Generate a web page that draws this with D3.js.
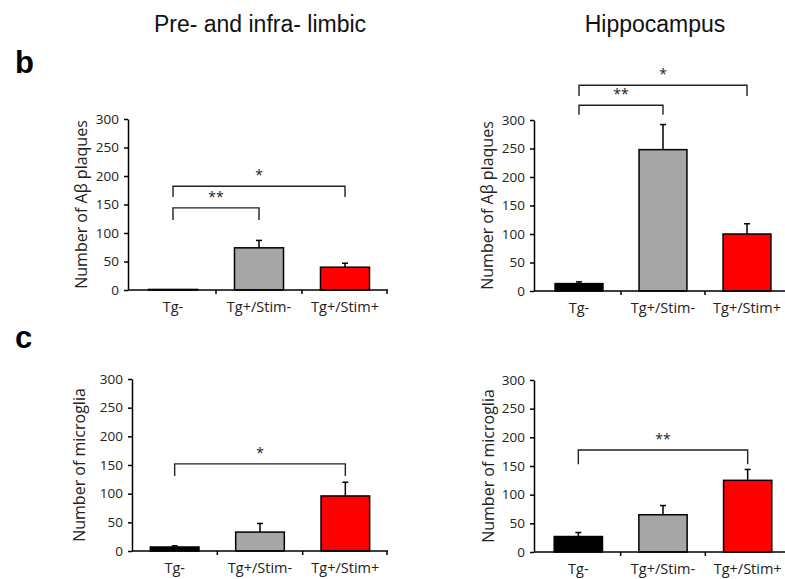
<!DOCTYPE html>
<html>
<head>
<meta charset="utf-8">
<script src="https://cdn.jsdelivr.net/npm/d3@7"></script>
<style>
  body { margin: 0; background: #fff; }
  svg { display: block; }
</style>
</head>
<body>
<div id="vis"></div>
<script>
//Groups shown on every x axis
var categories = ["Tg-", "Tg+/Stim-", "Tg+/Stim+"];
var barColors = ["#000000", "#a6a6a6", "#ff0000"];
var yTicks = [0, 50, 100, 150, 200, 250, 300];

//Values (mean and upward SEM)
var plaquesLimbic = [1, 74, 40];
var plaquesLimbicErr = [0, 13, 7];
var plaquesHippo = [13, 248, 100];
var plaquesHippoErr = [3, 44, 18];
var microgliaLimbic = [7, 33, 96];
var microgliaLimbicErr = [2, 15, 24];
var microgliaHippo = [27, 65, 125];
var microgliaHippoErr = [7, 16, 19];

//Significance brackets: [from group, to group, bar level, drop level, label]
var sigPlaquesLimbic = [[0, 1, 144, 123, "**"], [0, 2, 182, 163, "*"]];
var sigPlaquesHippo = [[0, 1, 326, 309, "**"], [0, 2, 361, 342, "*"]];
var sigMicrogliaLimbic = [[0, 2, 152, 131, "*"]];
var sigMicrogliaHippo = [[0, 2, 178, 153, "**"]];

var width = 785, height = 579;

var svg = d3.select("#vis").append("svg")
    .attr("width", width)
    .attr("height", height);

var tickFont = "'Open Sans', sans-serif";
var titleFont = "'Liberation Sans', Arial, sans-serif";

//one panel = one bar chart with its own axes
var panels = [
  {values: plaquesLimbic, errs: plaquesLimbicErr, sig: sigPlaquesLimbic, label: "Number of A\u03b2 plaques",
   axisX: 128, x0: 130, x1: 388, top: 119, bottom: 290, labelX: 81},
  {values: plaquesHippo, errs: plaquesHippoErr, sig: sigPlaquesHippo, label: "Number of A\u03b2 plaques",
   axisX: 534, x0: 537, x1: 789, top: 120, bottom: 291, labelX: 487},
  {values: microgliaLimbic, errs: microgliaLimbicErr, sig: sigMicrogliaLimbic, label: "Number of microglia",
   axisX: 132, x0: 132, x1: 388, top: 379, bottom: 551, labelX: 79},
  {values: microgliaHippo, errs: microgliaHippoErr, sig: sigMicrogliaHippo, label: "Number of microglia",
   axisX: 534, x0: 536, x1: 790, top: 380, bottom: 552, labelX: 488}
];

panels.forEach(function(p) {
  var g = svg.append("g");

  var x = d3.scaleBand().domain(categories).range([p.x0, p.x1]).padding(0);
  var y = d3.scaleLinear().domain([0, 300]).range([p.bottom, p.top]);
  var barW = x.bandwidth() * 0.57;
  var cx = function(i) { return x(categories[i]) + x.bandwidth() / 2; };

  //y axis
  var yAxis = g.append("g")
      .attr("transform", "translate(" + p.axisX + ",0)")
      .call(d3.axisLeft(y).tickValues(yTicks).tickSize(4).tickSizeOuter(0).tickPadding(5));
  yAxis.select(".domain").attr("stroke", "#000").attr("stroke-width", 1.5);
  yAxis.selectAll(".tick line").attr("stroke-width", 1.5);
  yAxis.selectAll("text")
      .attr("font-family", tickFont)
      .attr("font-size", 13.5)
      .attr("fill", "#222");

  //y label
  g.append("text")
      .attr("transform", "translate(" + p.labelX + "," + ((p.top + p.bottom) / 2) + ") rotate(-90)")
      .attr("text-anchor", "middle")
      .attr("dy", "0.35em")
      .attr("font-family", tickFont)
      .attr("font-size", 16)
      .attr("fill", "#222")
      .text(p.label);

  //bars
  g.selectAll(".bar")
      .data(p.values)
      .enter().append("rect")
      .attr("x", function(d, i) { return cx(i) - barW / 2; })
      .attr("y", function(d) { return y(d); })
      .attr("width", barW)
      .attr("height", function(d) { return y(0) - y(d); })
      .attr("fill", function(d, i) { return barColors[i]; })
      .attr("stroke", "#000")
      .attr("stroke-width", 1.5);

  //error bars (upper only)
  p.values.forEach(function(v, i) {
    if (!p.errs[i]) return;
    var yt = y(v + p.errs[i]);
    g.append("line")
        .attr("x1", cx(i)).attr("x2", cx(i))
        .attr("y1", y(v)).attr("y2", yt)
        .attr("stroke", "#000").attr("stroke-width", 1.5);
    g.append("line")
        .attr("x1", cx(i) - 3).attr("x2", cx(i) + 3)
        .attr("y1", yt).attr("y2", yt)
        .attr("stroke", "#000").attr("stroke-width", 1.5);
  });

  //x axis with ticks at group boundaries
  g.append("line")
      .attr("x1", p.axisX).attr("x2", p.x1)
      .attr("y1", y(0)).attr("y2", y(0))
      .attr("stroke", "#000").attr("stroke-width", 1.5);
  var bounds = categories.slice(1).map(function(c) { return x(c); }).concat([p.x1 - 1]);
  g.selectAll(".xtick")
      .data(bounds)
      .enter().append("line")
      .attr("x1", function(d) { return d; }).attr("x2", function(d) { return d; })
      .attr("y1", y(0)).attr("y2", y(0) + 4)
      .attr("stroke", "#000").attr("stroke-width", 1.5);
  g.selectAll(".xlab")
      .data(categories)
      .enter().append("text")
      .attr("x", function(d, i) { return cx(i); })
      .attr("y", y(0) + 22)
      .attr("text-anchor", "middle")
      .attr("font-family", tickFont)
      .attr("font-size", 14.5)
      .attr("fill", "#222")
      .text(function(d) { return d; });

  //significance brackets
  p.sig.forEach(function(s) {
    var xa = cx(s[0]), xb = cx(s[1]), yb = y(s[2]), yd = y(s[3]);
    g.append("path")
        .attr("d", "M" + xa + "," + yd + "V" + yb + "H" + xb + "V" + yd)
        .attr("fill", "none")
        .attr("stroke", "#222")
        .attr("stroke-width", 1.4);
    g.append("text")
        .attr("x", (xa + xb) / 2)
        .attr("y", yb - 6)
        .attr("text-anchor", "middle")
        .attr("font-family", tickFont)
        .attr("font-size", 14)
        .attr("fill", "#222")
        .text(s[4]);
  });
});

//column titles and panel letters
svg.append("text")
    .attr("x", 260).attr("y", 32)
    .attr("text-anchor", "middle")
    .attr("font-family", titleFont)
    .attr("font-size", 23)
    .attr("fill", "#111")
    .text("Pre- and infra- limbic");
svg.append("text")
    .attr("x", 655).attr("y", 32)
    .attr("text-anchor", "middle")
    .attr("font-family", titleFont)
    .attr("font-size", 23)
    .attr("fill", "#111")
    .text("Hippocampus");
svg.append("text")
    .attr("x", 15).attr("y", 73)
    .attr("font-family", titleFont)
    .attr("font-weight", "bold")
    .attr("font-size", 31)
    .text("b");
svg.append("text")
    .attr("x", 15).attr("y", 348)
    .attr("font-family", titleFont)
    .attr("font-weight", "bold")
    .attr("font-size", 31)
    .text("c");
</script>
</body>
</html>
